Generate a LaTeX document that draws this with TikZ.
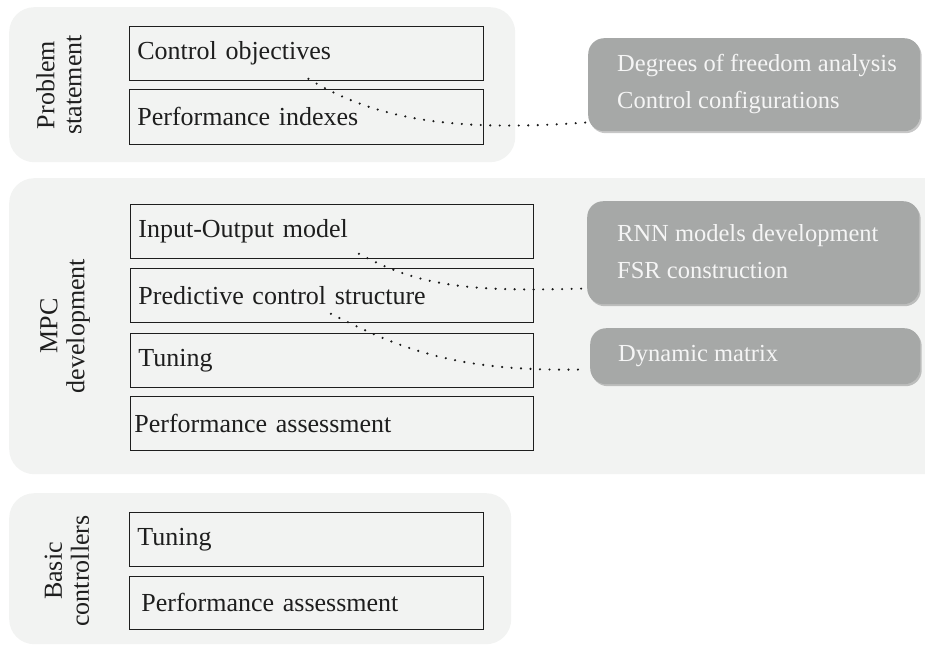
\documentclass[tikz,border=0pt]{standalone}
\usepackage{fontspec}
\setmainfont{Liberation Serif}
\usetikzlibrary{shadows}
\definecolor{panelbg}{HTML}{F2F3F2}
\definecolor{greyfill}{HTML}{A6A8A7}
\definecolor{inkc}{HTML}{1E1E1E}
\newcommand\boxfont{\fontsize{26}{31}\selectfont}
\newcommand\sidefont{\fontsize{26}{27}\selectfont}
\newcommand\greyfont{\fontsize{24.5}{37}\selectfont}
\tikzset{
  panelbox/.style={fill=panelbg, rounded corners=25pt, anchor=north west, inner sep=0pt},
  itembox/.style={draw=inkc, line width=0.8pt, text=inkc, font=\boxfont, anchor=north west,
    inner xsep=8pt, inner ysep=0pt, align=left},
  greybox/.style={fill=greyfill, rounded corners=16pt, anchor=north west, inner sep=0pt,
    drop shadow={shadow xshift=1.5pt, shadow yshift=-2pt, fill=black, opacity=0.22}},
  greytext/.style={text=white!96!black, font=\greyfont, anchor=west, align=left, inner sep=0pt},
  sidelabel/.style={rotate=90, align=center, font=\sidefont, text=inkc},
  dotline/.style={line width=2.4pt, line cap=round, dash pattern=on 0pt off 9.5pt, draw=black!90}
}
\begin{document}
\begin{tikzpicture}[x=1pt,y=-1pt]
\useasboundingbox (0,0) rectangle (925,648);
\clip (0,0) rectangle (925,648);
% panels
\node[panelbox, minimum width=506pt, minimum height=155pt] (p1) at (9,7) {};
\node[panelbox, minimum width=950pt, minimum height=296pt] (p2) at (9,178) {};
\node[panelbox, minimum width=502pt, minimum height=151pt] (p3) at (9,493) {};
% side labels
\node[sidelabel] (l1) at (59,85) {Problem\\statement};
\node[sidelabel] (l2) at (65,326) {MPC\\development};
\node[sidelabel] (l3) at (67,571) {Basic\\controllers};
% panel 1 boxes
\node[itembox, minimum width=354pt, minimum height=54pt, text width=338pt] (co) at (129,26) {Control objectives};
\node[itembox, minimum width=354pt, minimum height=55pt, text width=338pt] (pi) at (129,89) {Performance indexes};
% panel 2 boxes
\node[itembox, minimum width=403pt, minimum height=54pt, text width=387pt] (io) at (130,204) {Input-Output model};
\node[itembox, minimum width=403pt, minimum height=54pt, text width=387pt] (pc) at (130,268) {Predictive control structure};
\node[itembox, minimum width=403pt, minimum height=54pt, text width=387pt, inner xsep=4pt] (tu) at (130,333) {Tuning};
\node[itembox, minimum width=403pt, minimum height=54pt, text width=395pt, inner xsep=4pt] (pa) at (130,396) {Performance assessment};
% panel 3 boxes
\node[itembox, minimum width=354pt, minimum height=54pt, text width=338pt] (bt) at (129,512) {Tuning};
\node[itembox, minimum width=354pt, minimum height=53pt, text width=330pt, inner xsep=12pt] (bp) at (129,576) {Performance assessment};
% grey boxes
\node[greybox, minimum width=332pt, minimum height=93pt] (g1) at (588,38) {};
\node[greytext] (g1t) at (617,84) {Degrees of freedom analysis\\Control configurations};
\node[greybox, minimum width=332pt, minimum height=103pt] (g2) at (587,201) {};
\node[greytext] (g2t) at (617,252) {RNN models development\\FSR construction};
\node[greybox, minimum width=330pt, minimum height=56pt] (g3) at (590,328) {};
\node[greytext] (g3t) at (618,356) {Dynamic matrix};
% dotted connectors
\draw[dotline] ([shift={(2,-2)}]co.south) .. controls +(66,40) and +(-138,10) .. ([shift={(0,-9)}]g1.south west);
\draw[dotline] ([shift={(27,-5)}]io.south) .. controls +(60,32) and +(-120,4) .. ([shift={(0,-16)}]g2.south west);
\draw[dotline] ([shift={(-1,-9)}]pc.south) .. controls +(70,35) and +(-130,3) .. ([shift={(-4,-15)}]g3.south west);
\end{tikzpicture}
\end{document}
